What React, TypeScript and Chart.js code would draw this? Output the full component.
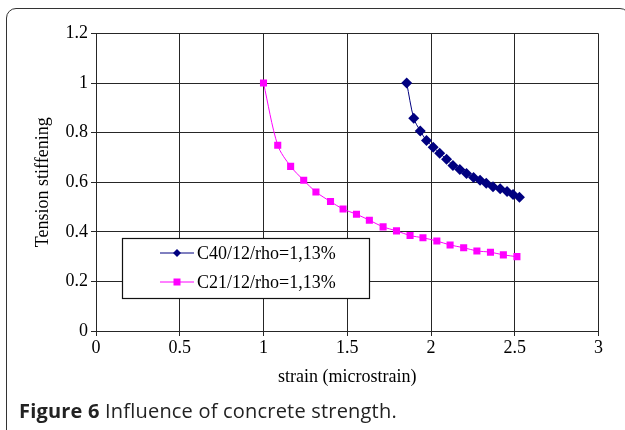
import React, { useEffect, useRef } from "react";
import { Chart, registerables } from "chart.js";

Chart.register(...registerables);

// ---- data ----
const seriesNames = ["C40/12/rho=1,13%", "C21/12/rho=1,13%"];
const c40Strain = [1.855, 1.897, 1.936, 1.973, 2.013, 2.052, 2.093, 2.131, 2.172, 2.212, 2.254, 2.293, 2.33, 2.37, 2.413, 2.454, 2.49, 2.528];
const c40Stiffening = [1.0, 0.858, 0.807, 0.768, 0.741, 0.717, 0.693, 0.668, 0.651, 0.635, 0.619, 0.608, 0.596, 0.582, 0.574, 0.563, 0.551, 0.54];
const c21Strain = [1.0, 1.085, 1.162, 1.24, 1.313, 1.4, 1.475, 1.555, 1.632, 1.714, 1.794, 1.875, 1.952, 2.035, 2.114, 2.195, 2.274, 2.355, 2.432, 2.513];
const c21Stiffening = [1.0, 0.749, 0.664, 0.608, 0.561, 0.522, 0.492, 0.471, 0.447, 0.42, 0.404, 0.385, 0.376, 0.363, 0.347, 0.336, 0.323, 0.318, 0.307, 0.3];
const xTickValues = [0, 0.5, 1, 1.5, 2, 2.5, 3];
const xTickLabels = ["0", "0.5", "1", "1.5", "2", "2.5", "3"];
const yTickValues = [0, 0.2, 0.4, 0.6, 0.8, 1, 1.2];
const yTickLabels = ["0", "0.2", "0.4", "0.6", "0.8", "1", "1.2"];
const xTitle = "strain (microstrain)";
const yTitle = "Tension stiffening";
const captionBold = "Figure 6";
const captionText = " Influence of concrete strength.";

const SERIF = "'Liberation Serif', 'Times New Roman', serif";
const NAVY = "#000080";
const MAGENTA = "#FF00FF";
const GRID = "#262626";

function toPoints(xs: number[], ys: number[]) {
  return xs.map((x, i) => ({ x, y: ys[i] }));
}

const boxLegend = {
  id: "boxLegend",
  afterDraw(chart: any) {
    const ctx = chart.ctx as CanvasRenderingContext2D;
    const left = 122.5, top = 238.5, w = 247, h = 60;
    ctx.save();
    ctx.fillStyle = "#fff";
    ctx.fillRect(left, top, w, h);
    ctx.strokeStyle = "#111";
    ctx.lineWidth = 1.2;
    ctx.strokeRect(left, top, w, h);
    chart.data.datasets.forEach((ds: any, i: number) => {
      const cy = 253 + i * 29;
      ctx.strokeStyle = ds.borderColor;
      ctx.lineWidth = 1;
      ctx.beginPath();
      ctx.moveTo(160, cy);
      ctx.lineTo(194, cy);
      ctx.stroke();
      ctx.fillStyle = ds.backgroundColor;
      const cx = 177;
      if (ds.pointStyle === "rectRot") {
        const s = 4;
        ctx.beginPath();
        ctx.moveTo(cx - s, cy);
        ctx.lineTo(cx, cy + s);
        ctx.lineTo(cx + s, cy);
        ctx.lineTo(cx, cy - s);
        ctx.closePath();
        ctx.fill();
      } else {
        const s = 3.5;
        ctx.fillRect(cx - s, cy - s, 2 * s, 2 * s);
      }
      ctx.fillStyle = "#000";
      ctx.font = `18px ${SERIF}`;
      ctx.textBaseline = "middle";
      ctx.textAlign = "left";
      ctx.fillText(ds.label, 197, cy + 1);
    });
    ctx.restore();
  },
};

export default function App() {
  const canvasRef = useRef<HTMLCanvasElement | null>(null);

  useEffect(() => {
    if (!canvasRef.current) return;
    const chart = new Chart(canvasRef.current, {
      type: "line",
      data: {
        datasets: [
          {
            label: seriesNames[0],
            data: toPoints(c40Strain, c40Stiffening),
            borderColor: NAVY,
            backgroundColor: NAVY,
            borderWidth: 1,
            pointStyle: "rectRot",
            pointRadius: 5.5,
            pointBorderWidth: 0,
            tension: 0.3,
          },
          {
            label: seriesNames[1],
            data: toPoints(c21Strain, c21Stiffening),
            borderColor: MAGENTA,
            backgroundColor: MAGENTA,
            borderWidth: 1,
            pointStyle: "rect",
            pointRadius: 5,
            pointBorderWidth: 0,
            tension: 0.3,
          },
        ],
      },
      options: {
        animation: false,
        responsive: false,
        devicePixelRatio: 1,
        layout: { padding: { top: 33.5, left: 0, right: 0, bottom: 39 } },
        plugins: { legend: { display: false }, tooltip: { enabled: false } },
        scales: {
          x: {
            type: "linear",
            min: 0,
            max: 3,
            afterBuildTicks: (s: any) => {
              s.ticks = xTickValues.map((v) => ({ value: v }));
            },
            ticks: {
              color: "#000",
              font: { family: SERIF, size: 18 },
              padding: 1,
              maxRotation: 0,
              autoSkip: false,
              callback: (_v: any, i: number) => xTickLabels[i],
            },
            grid: { color: GRID, lineWidth: 1, tickLength: 5 },
            border: { color: GRID, width: 1 },
            title: { display: true, text: xTitle, color: "#000", font: { family: SERIF, size: 18 }, padding: { top: 0, bottom: 3 } },
            afterFit: (s: any) => {
              s.height = 60;
              s.paddingRight = 2;
            },
          },
          y: {
            type: "linear",
            min: 0,
            max: 1.2,
            afterBuildTicks: (s: any) => {
              s.ticks = yTickValues.map((v) => ({ value: v }));
            },
            ticks: {
              color: "#000",
              font: { family: SERIF, size: 18 },
              padding: 3,
              autoSkip: false,
              callback: (_v: any, i: number) => yTickLabels[i],
            },
            grid: { color: GRID, lineWidth: 1, tickLength: 5 },
            border: { color: GRID, width: 1 },
            title: { display: true, text: yTitle, color: "#000", font: { family: SERIF, size: 18 }, padding: { top: 32, bottom: 0 } },
            afterFit: (s: any) => {
              s.width = 96;
            },
          },
        },
      },
      plugins: [boxLegend],
    } as any);
    return () => chart.destroy();
  }, []);

  return (
    <div style={{ position: "absolute", left: 0, top: 0, width: 625, height: 430, overflow: "hidden", background: "#fff" }}>
      <div
        style={{
          position: "absolute",
          left: 6,
          top: 8,
          width: 624,
          height: 440,
          border: "1.5px solid #333",
          borderRadius: 10,
          boxSizing: "border-box",
        }}
      />
      <canvas ref={canvasRef} width={604} height={430} style={{ position: "absolute", left: 0, top: 0 }} />
      <div
        style={{
          position: "absolute",
          left: 19,
          top: 399,
          fontFamily: "'Open Sans', sans-serif",
          fontSize: 20,
          letterSpacing: "0.2px",
          lineHeight: "24px",
          color: "#222",
          whiteSpace: "nowrap",
        }}
      >
        <b>{captionBold}</b>
        {captionText}
      </div>
    </div>
  );
}
